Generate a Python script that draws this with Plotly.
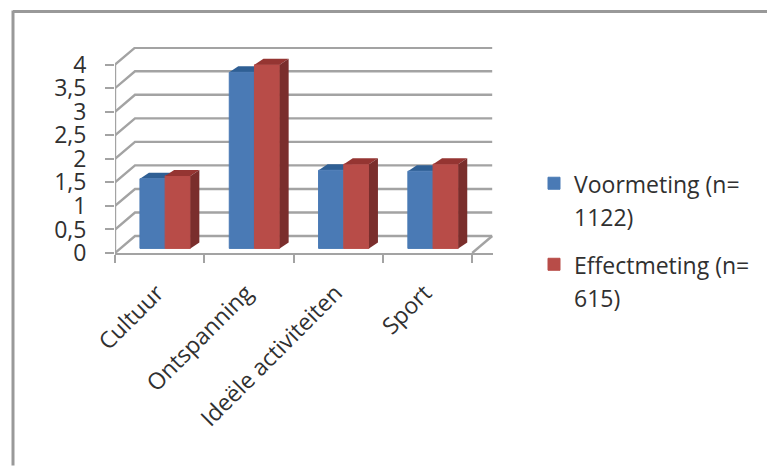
import plotly.graph_objects as go

categories = ["Cultuur", "Ontspanning", "Ideële activiteiten", "Sport"]
voormeting = [1.48, 3.74, 1.66, 1.64]
effectmeting = [1.54, 3.9, 1.79, 1.79]
series_names = [["Voormeting (n=", "1122)"], ["Effectmeting (n=", "615)"]]
value_ticks = [0, 0.5, 1, 1.5, 2, 2.5, 3, 3.5, 4]

W, H = 767, 466
# Plot box in pixels: front plane starts at LEFT/BOTTOM, back wall ends at RIGHT/TOP.
LEFT, RIGHT, TOP, BOTTOM = 115, 493, 46.5, 253
UX, UY = 89.3, 47.2                   # pixels per category and per value unit
WALL_DX, WALL_DY = 20 / UX, 17 / UY   # depth of the chart box
BAR_DX, BAR_DY = 9 / UX, 6 / UY       # depth of one bar
FLOOR_X, FLOOR_Y = 5.5 / UX, 4.6 / UY # bars stand in the middle of the floor
BAR_W = 25.2 / UX

X_RANGE = [0, (RIGHT - LEFT) / UX]
Y_RANGE = [0, (BOTTOM - TOP) / UY]

GRID = "#a3a3a3"
TEXT = "#303030"
FONT = "Open Sans"
LEGEND_TEXT_SIZE = 23
LEGEND_LINE_SIZE = 25.4   # legend line spacing follows this size
BLUE, BLUE_TOP = "#4a7ab5", "#2f5f94"
RED, RED_TOP, RED_SIDE = "#b84c48", "#953532", "#7a2e2c"

fig = go.Figure()


def line(xs, ys):
    fig.add_trace(go.Scatter(x=xs, y=ys, mode="lines", showlegend=False, hoverinfo="skip",
                             line=dict(color=GRID, width=2.4), xaxis="x", yaxis="y", cliponaxis=False))


# Box wireframe: back-wall gridlines with their diagonals along the side wall.
for v in value_ticks:
    line([0, WALL_DX, len(categories) + WALL_DX], [v, v + WALL_DY, v + WALL_DY])
line([len(categories), len(categories) + WALL_DX], [0, WALL_DY])


def bar_x(i, series):
    return i + 0.5 + FLOOR_X + (series - 0.5) * BAR_W


def top_face(i, series, value, color, axes):
    x0, x1 = bar_x(i, series) - BAR_W / 2, bar_x(i, series) + BAR_W / 2
    y = value + FLOOR_Y
    fig.add_trace(go.Scatter(x=[x0, x1, x1 + BAR_DX, x0 + BAR_DX, x0],
                             y=[y, y, y + BAR_DY, y + BAR_DY, y],
                             mode="lines", fill="toself", fillcolor=color, line=dict(width=0),
                             showlegend=False, hoverinfo="skip", xaxis=axes[0], yaxis=axes[1]))


def side_face(i, series, value, color, axes):
    x1 = bar_x(i, series) + BAR_W / 2
    y0, y1 = FLOOR_Y, value + FLOOR_Y
    fig.add_trace(go.Scatter(x=[x1, x1 + BAR_DX, x1 + BAR_DX, x1, x1],
                             y=[y0, y0 + BAR_DY, y1 + BAR_DY, y1, y0],
                             mode="lines", fill="toself", fillcolor=color, line=dict(width=0),
                             showlegend=False, hoverinfo="skip", xaxis=axes[0], yaxis=axes[1]))


# The blue tops sit beneath the overlay so the red fronts cover them.
for i, v in enumerate(voormeting):
    top_face(i, 0, v, BLUE_TOP, ("x", "y"))

positions = range(len(categories))


def legend_name(lines):
    return "<br>".join(f'<span style="font-size:{LEGEND_TEXT_SIZE}px">{t}</span>' for t in lines)


for s, (values, color) in enumerate([(voormeting, BLUE), (effectmeting, RED)]):
    fig.add_trace(go.Bar(x=[bar_x(i, s) for i in positions], y=values, base=FLOOR_Y, width=BAR_W,
                         marker=dict(color=color, line=dict(color=color, width=1)),
                         name=legend_name(series_names[s]), legendgroup=f"series{s}",
                         xaxis="x2", yaxis="y2"))

for i, v in enumerate(effectmeting):
    top_face(i, 1, v, RED_TOP, ("x2", "y2"))
    side_face(i, 1, v, RED_SIDE, ("x2", "y2"))


def px_x(p):
    return (p - LEFT) / (RIGHT - LEFT)


def px_y(p):
    return (BOTTOM - p) / (BOTTOM - TOP)


fig.update_layout(
    width=W, height=H,
    margin=dict(l=LEFT, r=W - RIGHT, t=TOP, b=H - BOTTOM, autoexpand=False),
    paper_bgcolor="white", plot_bgcolor="rgba(0,0,0,0)",
    separators=", ",
    barmode="overlay",
    font=dict(family=FONT, color=TEXT),
    showlegend=True,
    legend=dict(x=px_x(534), y=px_y(160), xanchor="left", yanchor="top", valign="top",
                tracegroupgap=12,
                font=dict(family=FONT, size=LEGEND_LINE_SIZE, color=TEXT),
                bgcolor="rgba(0,0,0,0)", itemclick=False, itemdoubleclick=False),
    # Category ticks sit on the boundaries between groups.
    xaxis=dict(range=X_RANGE, tickmode="array", tickvals=list(range(len(categories) + 1)),
               ticktext=[""] * (len(categories) + 1), ticks="outside", ticklen=8, tickwidth=2,
               tickcolor=GRID, showgrid=False, zeroline=False, showline=True, linecolor=GRID,
               linewidth=2.4, constrain="domain"),
    yaxis=dict(range=Y_RANGE, tickmode="array", tickvals=value_ticks, ticks="outside", ticklen=9,
               tickwidth=2, tickcolor=GRID, showgrid=False, zeroline=False,
               tickfont=dict(family=FONT, size=23, color=TEXT),
               ticklabelstandoff=14),
    # Overlay carries the bars and the centred category names.
    xaxis2=dict(range=X_RANGE, overlaying="x", anchor="y2", tickmode="array",
                tickvals=[i + 0.47 for i in positions], ticktext=categories, tickangle=-45,
                ticks="", ticklabelstandoff=21, tickfont=dict(family=FONT, size=23, color=TEXT),
                showgrid=False, zeroline=False),
    yaxis2=dict(range=Y_RANGE, overlaying="y", anchor="x2", visible=False),
    shapes=[
        # Left axis post, kept to the 0-4 span, and the outer frame.
        dict(type="line", xref="x", yref="y", x0=0, x1=0, y0=0, y1=4,
             line=dict(color=GRID, width=2.4)),
        dict(type="line", xref="paper", yref="paper", x0=px_x(13), x1=px_x(W), y0=px_y(11), y1=px_y(11),
             line=dict(color="#999999", width=3)),
        dict(type="line", xref="paper", yref="paper", x0=px_x(13), x1=px_x(13), y0=px_y(10), y1=px_y(H),
             line=dict(color="#999999", width=3)),
    ],
)

fig.write_html("out.html", config=dict(displayModeBar=False))
